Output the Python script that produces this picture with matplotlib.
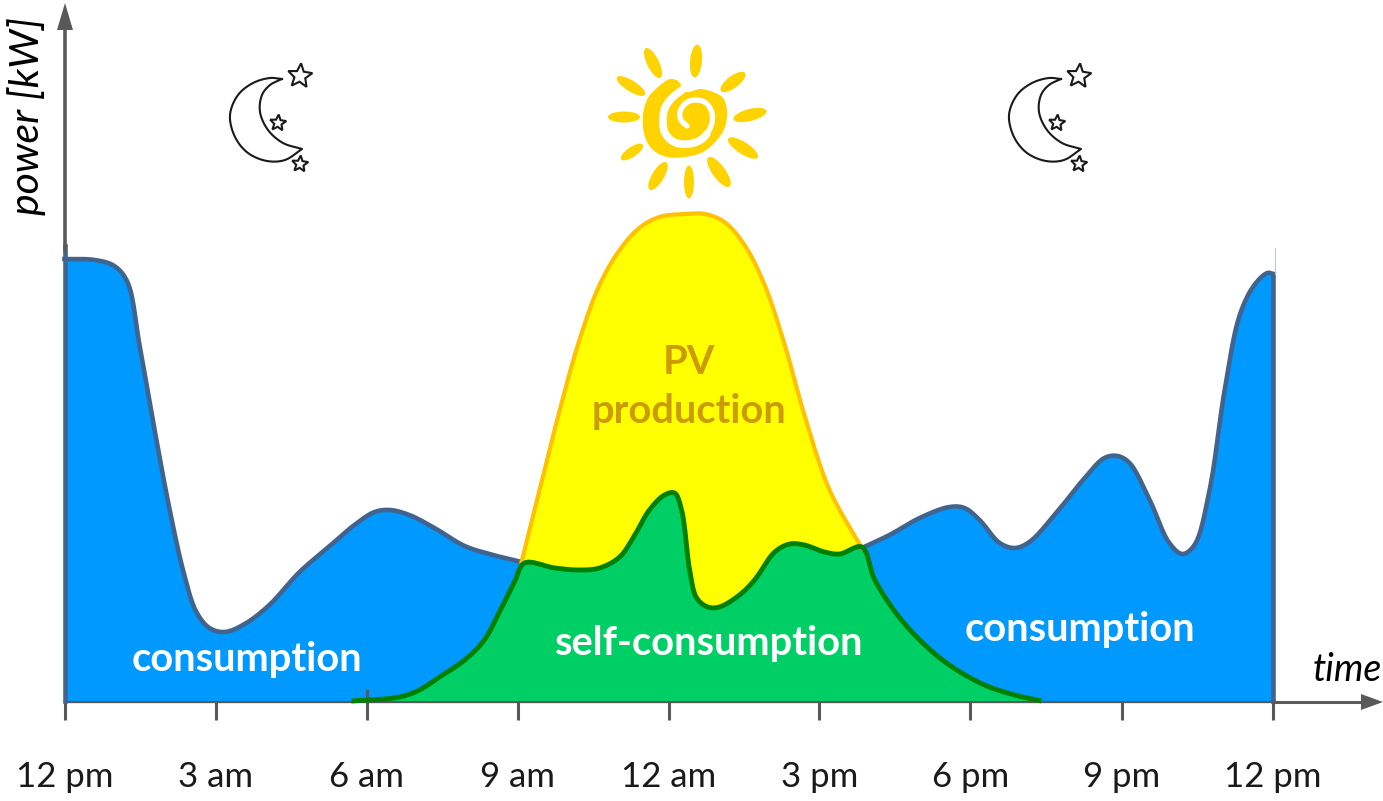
import matplotlib
matplotlib.use("Agg")
import matplotlib.pyplot as plt
import numpy as np
from matplotlib.patches import Ellipse, Polygon

W, H = 1383, 801

# hours after midnight, power in kW
morning_hours = [0, 0.60, 0.99, 1.25, 1.49, 1.79, 2.09, 2.38, 2.62, 2.88, 3.18, 3.58, 4.07, 4.67,
                 5.27, 5.76, 6.16, 6.46, 6.85, 7.35, 7.95, 8.44, 9.08]
morning_power = [4.42, 4.41, 4.35, 4.19, 3.56, 2.71, 1.91, 1.26, 0.89, 0.73, 0.69, 0.77, 0.96, 1.29,
                 1.55, 1.76, 1.89, 1.91, 1.86, 1.73, 1.55, 1.47, 1.39]
evening_hours = [15.84, 16.39, 16.99, 17.58, 17.88, 18.18, 18.58, 18.88, 19.17, 19.67, 20.27, 20.66,
                 20.92, 21.16, 21.56, 21.95, 22.21, 22.45, 22.75, 23.05, 23.35, 23.64, 23.90, 24.02]
evening_power = [1.53, 1.66, 1.83, 1.94, 1.93, 1.81, 1.58, 1.53, 1.59, 1.86, 2.23, 2.43,
                 2.45, 2.38, 2.01, 1.58, 1.47, 1.56, 2.11, 3.11, 3.86, 4.16, 4.28, 4.27]
pv_hours = [9.08, 9.44, 9.84, 10.23, 10.63, 11.03, 11.42, 11.82, 12.32, 12.72, 13.11, 13.51, 13.91,
            14.31, 14.70, 15.20, 15.84]
pv_power = [1.39, 2.11, 2.91, 3.61, 4.16, 4.51, 4.73, 4.84, 4.87, 4.87, 4.79, 4.56, 4.16,
            3.56, 2.86, 2.11, 1.53]
self_hours = [5.70, 6.66, 7.05, 7.45, 7.95, 8.34, 8.64, 8.94, 9.14, 9.74, 10.23, 10.63, 11.03, 11.33,
              11.62, 11.92, 12.12, 12.26, 12.42, 12.56, 12.78, 13.01, 13.41, 13.71, 14.11, 14.41,
              14.70, 15.10, 15.40, 15.84, 16.09, 16.49, 16.99, 17.58, 18.28, 18.88, 19.41]
self_power = [0.0, 0.04, 0.11, 0.24, 0.41, 0.61, 0.89, 1.19, 1.38, 1.33, 1.31, 1.33, 1.44, 1.66,
              1.91, 2.06, 2.08, 1.91, 1.31, 1.03, 0.94, 0.94, 1.06, 1.21, 1.49, 1.57,
              1.56, 1.49, 1.47, 1.54, 1.22, 0.90, 0.61, 0.36, 0.16, 0.06, 0.0]
tick_hours = [0, 3, 6, 9, 12, 15, 18, 21, 24]
tick_labels = ["12 pm", "3 am", "6 am", "9 am", "12 am", "3 pm", "6 pm", "9 pm", "12 pm"]


def smooth(x, y, aspect=0.5, n=14):
    # centripetal catmull-rom through the read points, keeps the outlines round
    p = np.column_stack([np.asarray(x, float) * aspect, np.asarray(y, float)])
    p = np.vstack([2 * p[0] - p[1], p, 2 * p[-1] - p[-2]])
    out = []
    for i in range(1, len(p) - 2):
        a, b, c, d = p[i - 1], p[i], p[i + 1], p[i + 2]
        t0 = 0.0
        t1 = t0 + np.linalg.norm(b - a) ** 0.5
        t2 = t1 + np.linalg.norm(c - b) ** 0.5
        t3 = t2 + np.linalg.norm(d - c) ** 0.5
        t = np.linspace(t1, t2, n, endpoint=False)[:, None]
        a1 = (t1 - t) / (t1 - t0) * a + (t - t0) / (t1 - t0) * b
        a2 = (t2 - t) / (t2 - t1) * b + (t - t1) / (t2 - t1) * c
        a3 = (t3 - t) / (t3 - t2) * c + (t - t2) / (t3 - t2) * d
        b1 = (t2 - t) / (t2 - t0) * a1 + (t - t0) / (t2 - t0) * a2
        b2 = (t3 - t) / (t3 - t1) * a2 + (t - t1) / (t3 - t1) * a3
        out.append((t2 - t) / (t2 - t1) * b1 + (t - t1) / (t2 - t1) * b2)
    out.append(p[-2][None, :])
    out = np.vstack(out)
    return out[:, 0] / aspect, out[:, 1]


GRAY = "#595959"
BLUE = "#0099FF"
BLUE_LINE = "#41648F"
GREEN = "#00CF66"
GREEN_LINE = "#008000"
ORANGE = "#FFC000"
SUN = "#FFD300"
GOLD_TEXT = "#CC9B00"

fig = plt.figure(figsize=(W / 100, H / 100), dpi=100)
plt.rcParams["font.family"] = ["Lato", "DejaVu Sans"]

# main axes: 0-24 h spans px 65-1273, baseline at py 701
ax = fig.add_axes([64.5 / W, 1 - 701 / H, (1273 - 65) / W, 700 / H])
ax.set_xlim(0, 24)
ax.set_ylim(0, 7)
ax.patch.set_alpha(0)
for side in ["top", "right", "left"]:
    ax.spines[side].set_visible(False)
ax.spines["bottom"].set_color(GRAY)
ax.spines["bottom"].set_linewidth(2.4)
ax.spines["bottom"].set_zorder(1)
ax.set_yticks([])
ax.set_xticks(tick_hours)
ax.set_xticklabels(tick_labels, fontsize=25, color="#1a1a1a")
ax.tick_params(axis="x", length=14, width=2.2, color=GRAY, pad=29.5)

mx, my = smooth(morning_hours, morning_power)
ex, ey = smooth(evening_hours, evening_power)
pvx, pvy = smooth(pv_hours, pv_power)
sx, sy = smooth(self_hours, self_power)

ax.fill(np.r_[0, mx, 9.2, 0], np.r_[0, my, 0, 0], color=BLUE, lw=0, zorder=2)
ax.fill(np.r_[15.7, np.clip(ex, None, 24), 24], np.r_[0, ey, 0], color=BLUE, lw=0, zorder=2)
mid = (sx >= pv_hours[0]) & (sx <= pv_hours[-1])
ax.fill(np.r_[pvx, sx[mid][::-1]], np.r_[pvy, sy[mid][::-1]], color="#FFFF00", lw=0, zorder=3)
ax.fill(sx, sy, color=GREEN, lw=0, zorder=4)

ax.plot(mx, my, color=BLUE_LINE, lw=3.3, zorder=5, clip_on=False)
ax.plot(ex, ey, color=BLUE_LINE, lw=3.3, zorder=5, clip_on=False)
ax.plot([24, 24], [0, 4.27], color=BLUE_LINE, lw=3.3, zorder=5, clip_on=False)
ax.plot([24.05, 24.05], [4.27, 4.53], color="#B5C9DC", lw=0.8, zorder=5, clip_on=False)
ax.plot([0, 0], [0, 4.55], color=BLUE_LINE, lw=3.3, zorder=5, clip_on=False)
ax.plot(pvx, pvy, color=ORANGE, lw=3.0, zorder=6)
ax.plot(sx, sy, color=GREEN_LINE, lw=3.5, zorder=7, clip_on=False, solid_capstyle="butt")
ax.plot([6, 6], [0, 0.1], color=GRAY, lw=2.2, zorder=6)

label_style = dict(fontsize=28.7, fontweight="bold", ha="center", va="center", zorder=8)
ax.text(3.62, 0.42, "consumption", color="white", **label_style)
ax.text(20.17, 0.72, "consumption", color="white", **label_style)
ax.text(12.8, 0.58, "self-consumption", color="white", **label_style)
ax.text(12.4, 3.39, "PV", color=GOLD_TEXT, **label_style)
ax.text(12.4, 2.9, "production", color=GOLD_TEXT, **label_style)

# overlay in pixels for the axis arrows and the hand drawn icons
deco = fig.add_axes([0, 0, 1, 1])
deco.set_xlim(0, W)
deco.set_ylim(H, 0)
deco.axis("off")
deco.patch.set_alpha(0)
deco.plot([65, 65], [250, 25], color=GRAY, lw=2.6, zorder=1)
deco.add_patch(Polygon([[65, 3], [57, 30], [73, 30]], color=GRAY, lw=0))
deco.plot([1273, 1365], [702, 702], color=GRAY, lw=2.2, zorder=1)
deco.add_patch(Polygon([[1383, 702], [1361, 694], [1361, 710]], color=GRAY, lw=0))
deco.text(27, 116, "power [kW]", rotation=90, fontsize=29.5, style="italic", color="black", ha="center", va="center")
deco.text(1313, 670, "time", fontsize=27, style="italic", color="black", ha="left", va="center")

# sun: x, y, length, width, angle of each ray
rays = [(696, 61, 33, 12, 85), (653, 63, 33, 12, 116), (631, 86, 33, 11, 148), (624, 117, 32, 11, 0),
        (632, 152, 26, 10, 34), (658, 176, 32, 12, 59), (689, 182, 33, 10, 90), (719, 172, 36, 13, -54),
        (743, 148, 35, 12, -33), (750, 115, 34, 12, 14), (733, 82, 30, 12, 37)]
for cx, cy, length, width, angle in rays:
    deco.add_patch(Ellipse((cx, cy), length, width, angle=-angle, color=SUN, lw=0))
hull_x = [677, 670, 658, 648, 643, 645, 653, 667, 685, 703, 717, 725, 727, 723, 713, 700, 688, 680, 681, 677]
hull_y = [80, 79, 87, 98, 115, 137, 150, 157, 157, 152, 140, 127, 110, 98, 92, 89, 92, 90, 85, 80]
deco.fill(*smooth(hull_x, hull_y, aspect=1), color=SUN, lw=0)
groove_x = [682, 672, 665, 663, 665, 674, 688, 702, 711, 712, 706, 695, 686, 680, 681, 687]
groove_y = [90, 98, 108, 120, 133, 142, 144, 139, 126, 113, 103, 100, 103, 112, 120, 126]
gx, gy = smooth(groove_x, groove_y, aspect=1)
half = len(gx) // 2
deco.plot(gx[:half], gy[:half], color="white", lw=5.5, solid_capstyle="round")
deco.plot(gx[half - 1:], gy[half - 1:], color="white", lw=3.8, solid_capstyle="round")


def star(cx, cy, r):
    ang = np.deg2rad(np.arange(0, 360, 36) - 85)
    rad = np.where(np.arange(10) % 2 == 0, r, r * 0.45)
    deco.add_patch(Polygon(np.column_stack([cx + rad * np.cos(ang), cy + rad * np.sin(ang)]),
                           fc="white", ec="#1a1a1a", lw=1.5))


def moon(dx):
    outer_x = [282, 270, 253, 238, 230, 235, 248, 267, 285, 302]
    outer_y = [79, 78, 83, 95, 115, 137, 153, 161, 160, 149]
    inner_x = [302, 283, 268, 260, 262, 270, 282]
    inner_y = [149, 143, 130, 112, 95, 85, 79]
    ox, oy = smooth(outer_x, outer_y, aspect=1)
    ix, iy = smooth(inner_x, inner_y, aspect=1)
    deco.plot(np.r_[ox, ix] + dx, np.r_[oy, iy], color="#1a1a1a", lw=1.5)
    star(300 + dx, 76, 12.7)
    star(278 + dx, 123, 8.5)
    star(300 + dx, 164, 8.5)


moon(0)
moon(779)

fig.savefig("out.png", dpi=100)
